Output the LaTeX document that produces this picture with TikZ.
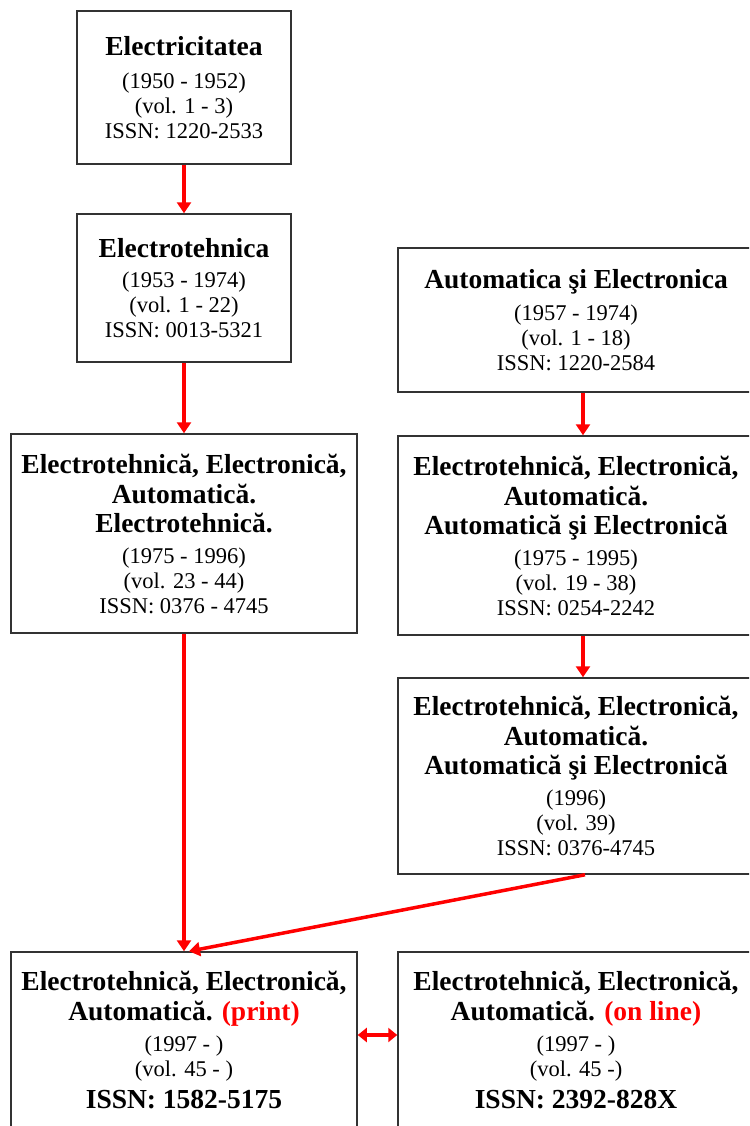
\documentclass[tikz,border=0pt]{standalone}
\usepackage{fontspec}
\setmainfont{Liberation Serif}
\usepackage{xcolor}
\usepackage{tikz}
\usetikzlibrary{arrows.meta}

\newcommand{\jtitle}{\fontsize{27.5}{31}\selectfont\bfseries}
\newcommand{\jbody}{\fontsize{22.5}{25}\selectfont}

\begin{document}
\begin{tikzpicture}[x=1pt,y=-1pt,
    box/.style={draw=black!80,line width=1.5,align=center,inner sep=0pt,font=\jbody},
    link/.style={draw=red,line width=3.5,-{Triangle[width=14pt,length=11pt]}}]
    \useasboundingbox (0,0) rectangle (749,1126);
    \clip (0,0) rectangle (749,1126);
    \fill[white] (0,0) rectangle (749,1126);

    \node[box,minimum width=214,minimum height=153] (el) at (184,87.5)
        {{\jtitle Electricitatea}\\[8pt] (1950 - 1952)\\ (vol. 1 - 3)\\ ISSN: 1220-2533};
    \node[box,minimum width=214,minimum height=148] (et) at (184,288)
        {{\jtitle Electrotehnica}\\[5pt] (1953 - 1974)\\ (vol. 1 - 22)\\ ISSN: 0013-5321};
    \node[box,minimum width=356,minimum height=144] (ae) at (576,320)
        {{\jtitle Automatica şi Electronica}\\[7pt] (1957 - 1974)\\ (vol. 1 - 18)\\ ISSN: 1220-2584};
    \node[box,minimum width=346,minimum height=199] (eea) at (184,533.5)
        {{\jtitle Electrotehnică, Electronică,}\\[5pt] {\jtitle Automatică.}\\[4pt]
         {\jtitle Electrotehnică.}\\[6pt] (1975 - 1996)\\ (vol. 23 - 44)\\ ISSN: 0376 - 4745};
    \node[box,minimum width=356,minimum height=199] (eeb) at (576,535.5)
        {{\jtitle Electrotehnică, Electronică,}\\[5pt] {\jtitle Automatică.}\\[4pt]
         {\jtitle Automatică şi Electronică}\\[6pt] (1975 - 1995)\\ (vol. 19 - 38)\\ ISSN: 0254-2242};
    \node[box,minimum width=356,minimum height=196] (eec) at (576,776)
        {{\jtitle Electrotehnică, Electronică,}\\[5pt] {\jtitle Automatică.}\\[4pt]
         {\jtitle Automatică şi Electronică}\\[6pt] (1996)\\ (vol. 39)\\ ISSN: 0376-4745};
    \node[box,minimum width=346,minimum height=176] (pr) at (184,1040)
        {{\jtitle Electrotehnică, Electronică,}\\[5pt]
         {\jtitle Automatică. \textcolor{red}{(print)}}\\[6pt] (1997 - )\\ (vol. 45 - )\\[7pt]
         {\jtitle ISSN: 1582-5175}};
    \node[box,minimum width=356,minimum height=176] (ol) at (576,1040)
        {{\jtitle Electrotehnică, Electronică,}\\[5pt]
         {\jtitle Automatică. \textcolor{red}{(on line)}}\\[6pt] (1997 - )\\ (vol. 45 -)\\[7pt]
         {\jtitle ISSN: 2392-828X}};

    \draw[link] (el.south) -- (et.north);
    \draw[link] (et.south) -- (eea.north);
    \draw[link] ([xshift=7]ae.south) -- ([xshift=7]eeb.north);
    \draw[link] ([xshift=7]eeb.south) -- ([xshift=7]eec.north);
    \draw[link] (eea.south) -- (pr.north);
    \draw[link] ([xshift=9]eec.south) -- ([xshift=5]pr.north);
    \draw[link,{Triangle[width=14pt,length=9pt]}-{Triangle[width=14pt,length=9pt]}]
        ([yshift=5]pr.east) -- ([yshift=5]ol.west);
\end{tikzpicture}
\end{document}
